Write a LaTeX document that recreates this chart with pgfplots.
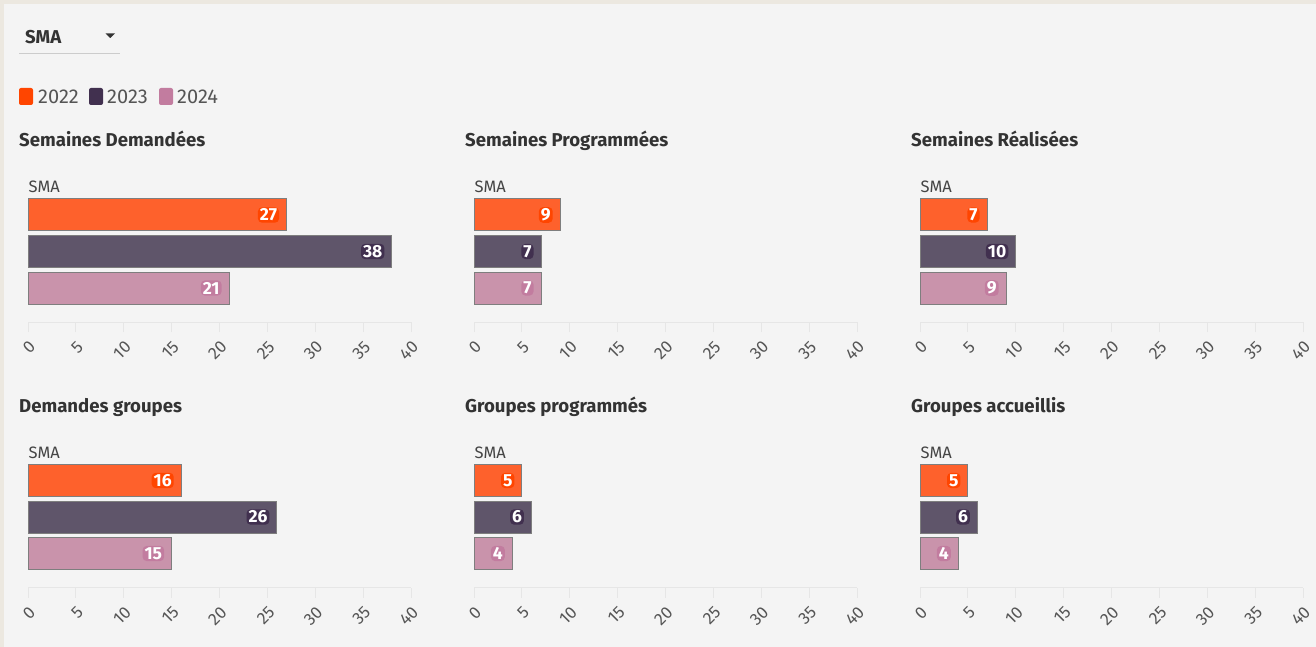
\documentclass[border=0pt]{standalone}
\usepackage{fontspec}
\setmainfont{Fira Sans}
\usepackage{pgfplots}
\pgfplotsset{compat=1.18}

\definecolor{bg}{HTML}{F4F4F4}
\definecolor{beige}{HTML}{ECE8E0}
\definecolor{c22}{HTML}{FE612C}
\definecolor{c23}{HTML}{5F556A}
\definecolor{c24}{HTML}{C993AB}
\definecolor{l22}{HTML}{FF4500}
\definecolor{l23}{HTML}{41304F}
\definecolor{l24}{HTML}{C27C9F}
\definecolor{axisgray}{HTML}{E6E6E6}
\definecolor{bargray}{HTML}{7E7E7E}
\definecolor{tickgray}{HTML}{555555}
\definecolor{titlegray}{HTML}{333333}
\definecolor{catgray}{HTML}{444444}

\newcommand\titlefont{\fontsize{18.6}{21}\selectfont\bfseries}
\newcommand\catfont{\fontsize{16.5}{19}\selectfont}
\newcommand\tickfont{\fontsize{17}{19}\selectfont}
\newcommand\datafont{\fontsize{17.5}{19}\selectfont\bfseries}
\newcommand\legfont{\fontsize{20}{23}\selectfont}

\pgfplotsset{
  panel/.style={
    xbar, bar width=32pt, bar shift=0pt,
    x=9.575pt, y=36.5pt,
    xmin=0, xmax=40, ymin=-0.9315, ymax=2.5,
    anchor=south west,
    axis x line*=bottom, hide y axis,
    x axis line style={draw=axisgray, line width=1pt, -},
    xtick={0,5,...,40}, ytick=\empty,
    tick style={draw=axisgray, line width=1pt},
    xtick align=outside, major tick length=10pt,
    xticklabel style={font=\tickfont, text=tickgray, xshift=4.5pt, rotate=45, anchor=east, inner sep=0pt},
    xticklabel shift=12pt,
    /pgf/number format/assume math mode=true,
    clip=false,
    point meta=x,
    nodes near coords,
    nodes near coords style={anchor=east, text=white, font=\datafont, inner xsep=2pt, inner ysep=1.5pt,
      rounded corners=4pt, xshift=-7pt},
  },
  s22/.style={fill=c22, draw=bargray, line width=1pt, bar shift=0pt,
    every node near coord/.append style={fill=l22, draw=none}},
  s23/.style={fill=c23, draw=bargray, line width=1pt, bar shift=0pt,
    every node near coord/.append style={fill=l23, draw=none}},
  s24/.style={fill=c24, draw=bargray, line width=1pt, bar shift=0pt,
    every node near coord/.append style={fill=l24, draw=none}},
}

\begin{document}
\begin{tikzpicture}
\path[use as bounding box] (0,0) rectangle (1316pt,-647pt);
\fill[bg] (0,0) rectangle (1316pt,-647pt);
\fill[beige] (0,0) rectangle (1316pt,-4pt);
\fill[beige] (0,0) rectangle (4pt,-647pt);

% dropdown
\node[anchor=base west, inner sep=0pt, text=titlegray, font=\titlefont] at (25pt,-43.3pt) {SMA};
\fill[titlegray] (105.5pt,-33.5pt) -- (115pt,-33.5pt) -- (110.25pt,-38pt) -- cycle;
\draw[line width=1pt, draw=black!20] (19pt,-53.5pt) -- (120pt,-53.5pt);

% legend
\fill[l22, rounded corners=2pt] (19pt,-88pt) rectangle (33pt,-105pt);
\node[anchor=base west, inner sep=0pt, text=tickgray, font=\legfont] at (38pt,-103.3pt) {2022};
\fill[l23, rounded corners=2pt] (89pt,-88pt) rectangle (103pt,-105pt);
\node[anchor=base west, inner sep=0pt, text=tickgray, font=\legfont] at (107pt,-103.3pt) {2023};
\fill[l24, rounded corners=2pt] (159pt,-88pt) rectangle (173pt,-105pt);
\node[anchor=base west, inner sep=0pt, text=tickgray, font=\legfont] at (177pt,-103.3pt) {2024};

% titles
\node[anchor=base west, inner sep=0pt, text=titlegray, font=\titlefont] at (19pt,-146.7pt) {Semaines Demandées};
\node[anchor=base west, inner sep=0pt, text=titlegray, font=\titlefont] at (465pt,-146.7pt) {Semaines Programmées};
\node[anchor=base west, inner sep=0pt, text=titlegray, font=\titlefont] at (911pt,-146.7pt) {Semaines Réalisées};
\node[anchor=base west, inner sep=0pt, text=titlegray, font=\titlefont] at (19pt,-412.7pt) {Demandes groupes};
\node[anchor=base west, inner sep=0pt, text=titlegray, font=\titlefont] at (465pt,-412.7pt) {Groupes programmés};
\node[anchor=base west, inner sep=0pt, text=titlegray, font=\titlefont] at (911pt,-412.7pt) {Groupes accueillis};

% category labels
\foreach \xx in {28.5,474.5,920.5}{
  \node[anchor=base west, inner sep=0pt, text=catgray, font=\catfont] at (\xx pt,-192.7pt) {SMA};
  \node[anchor=base west, inner sep=0pt, text=catgray, font=\catfont] at (\xx pt,-458.7pt) {SMA};
}

% row 1
\begin{axis}[panel, at={(28pt,-322pt)}]
\addplot[s22] coordinates {(27,2)};
\addplot[s23] coordinates {(38,1)};
\addplot[s24] coordinates {(21,0)};
\end{axis}
\begin{axis}[panel, at={(474pt,-322pt)}]
\addplot[s22] coordinates {(9,2)};
\addplot[s23] coordinates {(7,1)};
\addplot[s24] coordinates {(7,0)};
\end{axis}
\begin{axis}[panel, at={(920pt,-322pt)}]
\addplot[s22] coordinates {(7,2)};
\addplot[s23] coordinates {(10,1)};
\addplot[s24] coordinates {(9,0)};
\end{axis}

% row 2
\begin{axis}[panel, at={(28pt,-587.5pt)}]
\addplot[s22] coordinates {(16,2)};
\addplot[s23] coordinates {(26,1)};
\addplot[s24] coordinates {(15,0)};
\end{axis}
\begin{axis}[panel, at={(474pt,-587.5pt)}]
\addplot[s22] coordinates {(5,2)};
\addplot[s23] coordinates {(6,1)};
\addplot[s24] coordinates {(4,0)};
\end{axis}
\begin{axis}[panel, at={(920pt,-587.5pt)}]
\addplot[s22] coordinates {(5,2)};
\addplot[s23] coordinates {(6,1)};
\addplot[s24] coordinates {(4,0)};
\end{axis}
\end{tikzpicture}
\end{document}
